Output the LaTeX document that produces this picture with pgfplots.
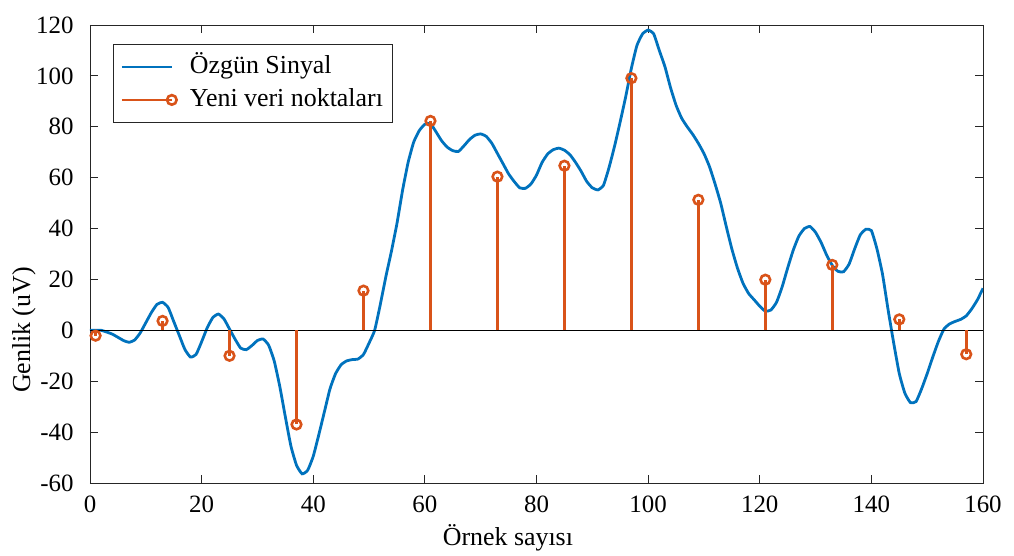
\documentclass[border=0pt]{standalone}
\usepackage{fontspec}
\setmainfont{Liberation Serif}
\usepackage{pgfplots}
\pgfplotsset{compat=1.18}

\definecolor{sigblue}{rgb}{0,0.447,0.741}
\definecolor{stemorange}{rgb}{0.85,0.325,0.098}
\definecolor{axgray}{rgb}{0.15,0.15,0.15}

\newcommand{\chartfont}{\fontsize{25}{30}\selectfont}
\newcommand{\legfont}{\fontsize{26}{31}\selectfont}

\begin{document}
\begin{tikzpicture}
\begin{axis}[
  scale only axis,
  width=893bp, height=458bp,
  xmin=0, xmax=160, ymin=-60, ymax=120,
  xtick={0,20,...,160},
  xticklabels={0,20,40,60,80,100,120,140,160},
  ytick={-60,-40,...,120},
  yticklabels={-60,-40,-20,0,20,40,60,80,100,120},
  tick align=inside,
  xtick pos=both, ytick pos=both,
  major tick length=8bp,
  axis line style={axgray, line width=0.8bp},
  tick style={axgray, line width=0.8bp},
  ticklabel style={font=\chartfont, text=black},
  xticklabel style={anchor=north, yshift=-9bp},
  yticklabel style={anchor=east, xshift=-13bp},
  xlabel={Örnek sayısı},
  ylabel={Genlik (uV)},
  label style={font=\legfont},
  xlabel style={at={(axis description cs:0.468,-0.12)}, anchor=center},
  ylabel style={at={(axis description cs:-0.074,0.334)}, anchor=center},
  legend cell align=left,
  legend style={
    at={(axis description cs:0.0258,0.9585)}, anchor=north west,
    draw=axgray, line width=0.8bp, font=\legfont,
    inner xsep=7bp, inner ysep=7bp,
    row sep=2bp, column sep=10bp,
    nodes={text height=20bp, text depth=7bp, inner sep=2bp},
  },
]
\coordinate (bl) at (rel axis cs:0,0);
\coordinate (tr) at (rel axis cs:1,1);

% original signal
\addplot[sigblue, line width=2.8bp, smooth, tension=0.3,
  legend image code/.code={\draw[sigblue, line width=2.8bp] (0bp,0bp) -- (50bp,0bp);}]
coordinates {
(0,0) (2,0) (4,-1.5) (6,-4) (7,-4.7) (8,-3.8) (9,-1) (10,3) (11,7) (12,10.2)
(13,11) (14,9) (15,3.5) (16,-2) (17,-7.5) (18,-10.5) (19,-9.5) (20,-4.5)
(21,1) (22,5) (23,6.4) (24,4.5) (25,0.5) (26,-3.5) (27,-7) (28,-7.6) (29,-6)
(30,-4) (31,-3.4) (32,-5.8) (33,-12) (34,-22) (35,-34) (36,-45.5) (37,-53)
(38,-56.4) (39,-55) (40,-49.5) (41,-41) (42,-32) (43,-23) (44,-17) (45,-13.5)
(46,-12) (47,-11.5) (48,-11.3) (49,-9.5) (50,-5) (51,0) (52,10) (53,21) (54,31)
(55,42) (56,55) (57,66) (58,74) (59,78.5) (60,81) (61,81.2) (62,78) (63,74.5)
(64,72) (65,70.6) (66,70.3) (67,72.5) (68,75) (69,76.7) (70,77.2) (71,76.2)
(72,73.5) (73,69.5) (74,65.5) (75,61.5) (76,58.5) (77,56) (78,55.8) (79,57.5)
(80,61) (81,66) (82,69.3) (83,71) (84,71.6) (85,70.8) (86,69) (87,66) (88,62.5)
(89,58.5) (90,56) (91,55.2) (92,57) (93,64) (94,72.5) (95,82) (96,92) (97,103)
(98,112) (99,116.5) (100,118) (101,116.5) (102,110) (103,103.7) (104,95.5)
(105,88.5) (106,83.4) (107,80) (108,77) (109,73.5) (110,69.5) (111,64.3)
(112,57.5) (113,50) (114,40.8) (115,32) (116,24.5) (117,18.5) (118,14.5)
(119,12) (120,9.5) (121,7.5) (122,8) (123,11) (124,17) (125,24.5) (126,31.5)
(127,37) (128,40) (129,40.8) (130,38.5) (131,34.5) (132,29.5) (133,25.5)
(134,23.2) (135,23) (136,26) (137,32) (138,37.5) (139,39.7) (140,39.2) (141,32)
(142,22) (143,8) (144,-5) (145,-17) (146,-24.7) (147,-28.4) (148,-28) (149,-23)
(150,-17) (151,-10.5) (152,-4.4) (153,0.5) (154,2.5) (155,3.5) (156,4.3)
(157,5.7) (158,8.5) (159,12) (160,16.5)
};
\addlegendentry{Özgün Sinyal}

% stem baseline
\addplot[black, line width=1.1bp, forget plot] coordinates {(0,0) (160,0)};

% resampled points
\addplot[ycomb, stemorange, line width=2.6bp,
  mark=o, mark size=4.8bp, mark options={solid, line width=2.6bp},
  legend image code/.code={
    \draw[stemorange, line width=2.6bp] (0bp,0bp) -- (50bp,0bp);
    \draw[stemorange, line width=2.6bp] (50bp,0bp) circle[radius=4.8bp];}]
coordinates {
(1,-2.1) (13,3.7) (25,-10) (37,-37) (49,15.6) (61,82.3) (73,60.4)
(85,64.7) (97,99.1) (109,51.3) (121,19.9) (133,25.7) (145,4.3) (157,-9.4)
};
\addlegendentry{Yeni veri noktaları}
\end{axis}
\path ([shift={(-90bp,-73bp)}]bl) rectangle ([shift={(31bp,25bp)}]tr);
\end{tikzpicture}
\end{document}
